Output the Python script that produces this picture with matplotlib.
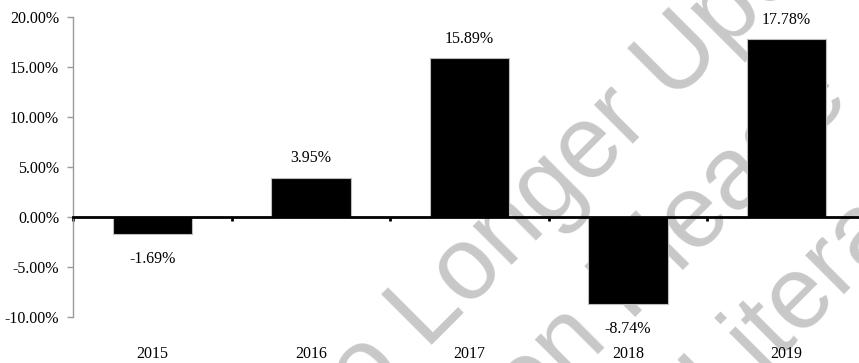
import matplotlib
matplotlib.use("Agg")
import matplotlib.pyplot as plt
import matplotlib.transforms as mtransforms

plt.rcParams['font.family'] = ['Liberation Serif', 'DejaVu Serif']
plt.rcParams['font.size'] = 11.5

# datos
anios = ['2015', '2016', '2017', '2018', '2019']
rendimiento = [-1.69, 3.95, 15.89, -8.74, 17.78]
yticks = [-10, -5, 0, 5, 10, 15, 20]
ytick_labels = ['-10.00%', '-5.00%', '0.00%', '5.00%', '10.00%', '15.00%', '20.00%']
marca_agua = ['No Longer Updated', 'Information Please', 'Current Literature']

W, H = 859, 363
fig = plt.figure(figsize=(W / 100, H / 100), dpi=100)

# marca de agua (gris claro, detras de las barras)
centros = [(612, 128), (530, 385), (726, 375)]
for txt, (px, py) in zip(marca_agua, centros):
    fig.text(px / W, 1 - py / H, txt, rotation=45, rotation_mode='anchor',
             ha='center', va='center', fontsize=74, color='#c8c8c8',
             family='Liberation Sans', zorder=0)

ax = fig.add_axes([73 / W, 1 - 317 / H, 793 / W, 300 / H])
ax.set_zorder(2)
ax.patch.set_alpha(0)
x = list(range(len(anios)))
ax.bar(x, rendimiento, width=0.5, color='black', edgecolor='#bdbdbd',
       linewidth=0.8, zorder=2)

ax.set_xlim(-0.5, len(anios) - 0.5)
ax.set_ylim(-10, 20)
ax.set_yticks(yticks)
ax.set_yticklabels(ytick_labels)

for s in ['top', 'right']:
    ax.spines[s].set_visible(False)
ax.spines['left'].set_color('#9a9a9a')
ax.spines['left'].set_linewidth(1.0)
ax.spines['bottom'].set_position(('data', 0))
ax.spines['bottom'].set_color('black')
ax.spines['bottom'].set_linewidth(2.0)
ax.spines['bottom'].set_zorder(3)

ax.tick_params(axis='y', direction='out', length=4, width=1, color='#9a9a9a', pad=6)
ax.set_xticks([i - 0.5 for i in range(len(anios) + 1)])
ax.set_xticklabels([])
ax.tick_params(axis='x', direction='out', length=3, width=2, color='black')

trans = mtransforms.blended_transform_factory(ax.transData, ax.transAxes)
for i, a in enumerate(anios):
    ax.text(i, -0.125, a, transform=trans, ha='center', va='center')

for i, v in enumerate(rendimiento):
    if v >= 0:
        ax.annotate(f"{v:.2f}%", (i, v), xytext=(0, 11), textcoords='offset points',
                    ha='center', va='baseline')
    else:
        ax.annotate(f"{v:.2f}%", (i, v), xytext=(0, -12), textcoords='offset points',
                    ha='center', va='top')

fig.savefig('out.png', dpi=100)
